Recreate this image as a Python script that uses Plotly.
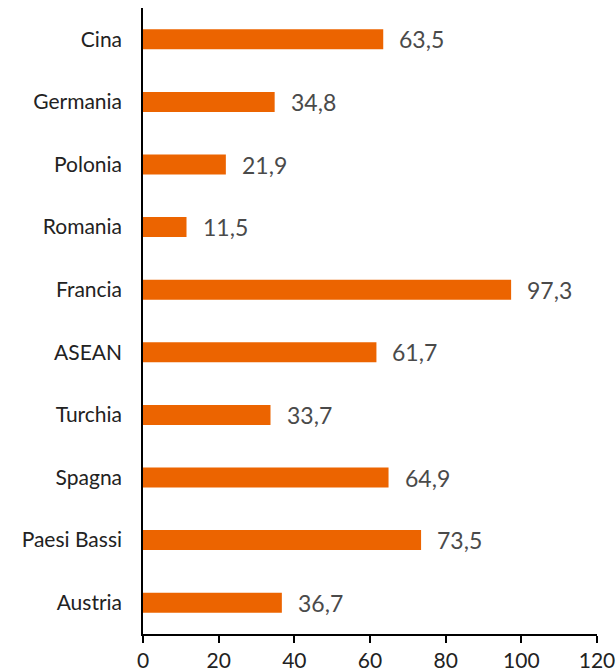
import plotly.graph_objects as go

categories = ["Cina", "Germania", "Polonia", "Romania", "Francia", "ASEAN",
              "Turchia", "Spagna", "Paesi Bassi", "Austria"]
values = [63.5, 34.8, 21.9, 11.5, 97.3, 61.7, 33.7, 64.9, 73.5, 36.7]
x_ticks = [0, 20, 40, 60, 80, 100, 120]

labels = [f"{v:.1f}".replace(".", ",") for v in values]
FONT = "Lato, DejaVu Sans, sans-serif"

fig = go.Figure()
fig.add_trace(go.Bar(
    x=values, y=categories, orientation="h",
    marker=dict(color="#EC6400", line=dict(width=0)),
    width=0.32, hoverinfo="skip", cliponaxis=False,
))
for v, c, t in zip(values, categories, labels):
    fig.add_annotation(x=v, y=c, text=t, showarrow=False, xanchor="left",
                       xshift=14, font=dict(family=FONT, size=23, color="#4a4a4a"))

fig.update_layout(
    width=616, height=672,
    margin=dict(l=143, r=19, t=8, b=38, autoexpand=False),
    paper_bgcolor="white", plot_bgcolor="white",
    showlegend=False,
    font=dict(family=FONT),
    xaxis=dict(range=[0, 120], tickvals=x_ticks, ticktext=[str(t) for t in x_ticks],
               automargin=False, ticklabeloverflow="allow",
               showgrid=False, zeroline=False, showline=True, linecolor="black",
               linewidth=1.5, ticks="outside", ticklen=7, tickwidth=1.5,
               ticklabelstandoff=0,
               tickcolor="black", tickfont=dict(family=FONT, size=21, color="#222222")),
    yaxis=dict(categoryorder="array", categoryarray=categories[::-1],
               range=[-0.5, len(categories) - 0.5], automargin=False,
               showgrid=False, zeroline=False, showline=True, linecolor="black",
               linewidth=1.5, ticks="", ticklabelstandoff=15,
               tickfont=dict(family=FONT, size=21, color="#222222")),
)
fig.write_html("out.html")
